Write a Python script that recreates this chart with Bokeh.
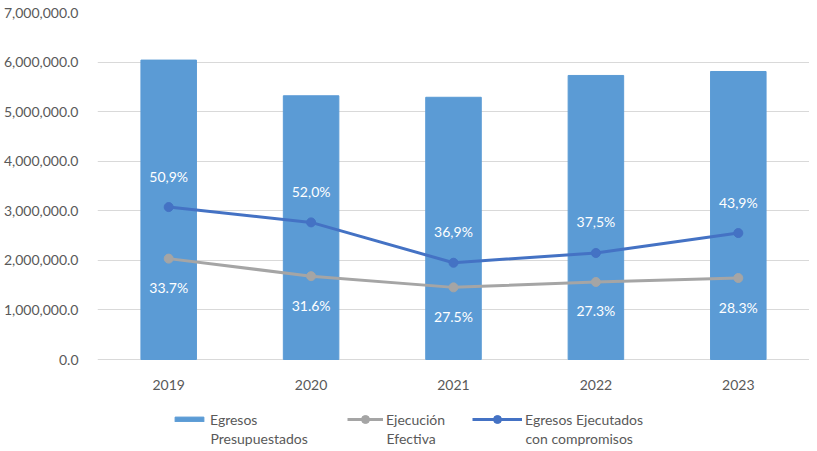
from bokeh.plotting import figure
from bokeh.models import ColumnDataSource, FactorRange, FixedTicker, NumeralTickFormatter, Legend, LegendItem, Range1d, Label
from bokeh.core.properties import value
from bokeh.embed import file_html
from bokeh.resources import INLINE

years = ["2019", "2020", "2021", "2022", "2023"]
presupuestados = [6040000, 5320000, 5290000, 5730000, 5810000]
ejecucion_efectiva = [2035000, 1681000, 1455000, 1564000, 1644000]
ejecutados_compromisos = [3075000, 2766000, 1952000, 2149000, 2551000]
efectiva_labels = ["33.7%", "31.6%", "27.5%", "27.3%", "28.3%"]
compromisos_labels = ["50,9%", "52,0%", "36,9%", "37,5%", "43,9%"]
y_ticks = [0, 1000000, 2000000, 3000000, 4000000, 5000000, 6000000, 7000000]
legend_first = ["Egresos", "Ejecución", "Egresos Ejecutados"]
legend_second = ["Presupuestados", "Efectiva", "con compromisos"]

FONT = "Lato"
TXT = "#595959"
BAR = "#5B9BD5"
GRAY = "#A5A5A5"
BLUE = "#4472C4"

# layout (pixels): value axis 0 .. 7,000,000 spans 347 px; 92 px below it hold the
# category labels and the legend, so the frame reaches further down than zero.
PLOT_PX, BELOW_PX = 347, 92
Y_MAX = 7000000
Y_MIN = -Y_MAX * BELOW_PX / PLOT_PX

src = ColumnDataSource(dict(x=years, top=presupuestados, ef=ejecucion_efectiva,
                            co=ejecutados_compromisos, efl=efectiva_labels, col=compromisos_labels))

p = figure(x_range=FactorRange(*years), y_range=Range1d(Y_MIN, Y_MAX),
           frame_width=712, frame_height=PLOT_PX + BELOW_PX, output_backend="svg", toolbar_location=None,
           min_border_left=97, min_border_right=0, min_border_top=12, min_border_bottom=0)
p.outline_line_color = None
p.background_fill_color = "white"
p.border_fill_color = "white"

bars = p.vbar(x="x", top="top", width=0.39, source=src, fill_color=BAR, line_color=BAR)
gl = p.line(x="x", y="ef", source=src, line_color=GRAY, line_width=3)
gs = p.scatter(x="x", y="ef", source=src, size=9, fill_color=GRAY, line_color=GRAY)
bl = p.line(x="x", y="co", source=src, line_color=BLUE, line_width=3)
bs = p.scatter(x="x", y="co", source=src, size=9, fill_color=BLUE, line_color=BLUE)

p.text(x="x", y="co", text="col", source=src, y_offset=-31, text_align="center",
       text_baseline="middle", text_color="white", text_font=value(FONT), text_font_size="14px")
p.text(x="x", y="ef", text="efl", source=src, y_offset=29, text_align="center",
       text_baseline="middle", text_color="white", text_font=value(FONT), text_font_size="14px")

p.yaxis.ticker = FixedTicker(ticks=y_ticks)
p.yaxis.formatter = NumeralTickFormatter(format="0,0.0")
p.xaxis.fixed_location = 0
for ax in (p.xaxis[0], p.yaxis[0]):
    ax.axis_line_color = None
    ax.major_tick_line_color = None
    ax.minor_tick_line_color = None
    ax.major_label_text_font = FONT
    ax.major_label_text_font_size = "14px"
    ax.major_label_text_color = TXT
p.yaxis.major_label_standoff = 13
p.xaxis.major_label_standoff = 14
p.xgrid.grid_line_color = None
p.ygrid.grid_line_color = "#D9D9D9"
p.ygrid.grid_line_width = 1

# legend: one Legend per item so each sits where the reference puts it
swatch_x = [74, 250, 375]      # px from the frame's left edge
swatch_w = [36, 36, 50]
swatch_h = [6, 20, 20]
item_renderers = [[bars], [gl, gs], [bl, bs]]
for i in range(3):
    lg = Legend(items=[LegendItem(label=legend_first[i], renderers=item_renderers[i])],
                orientation="horizontal", location=(swatch_x[i], 22))
    lg.label_text_font = FONT
    lg.label_text_font_size = "14px"
    lg.label_text_color = TXT
    lg.glyph_width = swatch_w[i]
    lg.glyph_height = swatch_h[i]
    lg.label_height = 20
    lg.label_standoff = 3
    lg.border_line_color = None
    lg.background_fill_alpha = 0
    lg.padding = 0
    lg.margin = 0
    p.add_layout(lg, "center")
    p.add_layout(Label(x=swatch_x[i] + swatch_w[i] + 3, y=13, x_units="screen", y_units="screen",
                       text=legend_second[i], text_font=FONT, text_font_size="14px",
                       text_color=TXT, text_baseline="middle", text_align="left"))

open("out.html", "w").write(file_html(p, INLINE))
